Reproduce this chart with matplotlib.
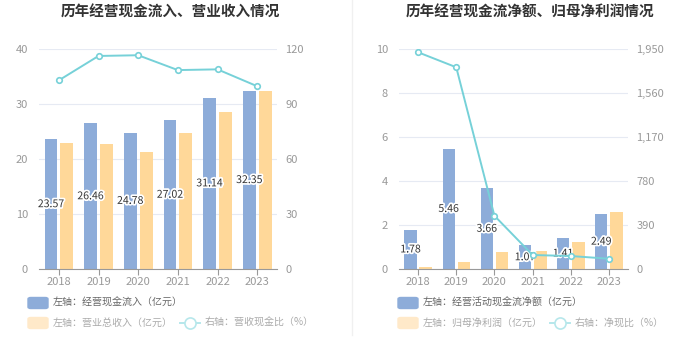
import matplotlib.pyplot as plt
import matplotlib.patheffects as pe
from matplotlib.patches import FancyBboxPatch
from matplotlib.lines import Line2D
from matplotlib.ticker import FuncFormatter
import numpy as np

plt.rcParams['font.family'] = ['Noto Sans CJK SC', 'DejaVu Sans']

years = ['2018', '2019', '2020', '2021', '2022', '2023']

# 左图
cash_in = [23.57, 26.46, 24.78, 27.02, 31.14, 32.35]
revenue = [22.9, 22.7, 21.3, 24.8, 28.5, 32.4]
cash_ratio = [102.9, 116.2, 116.6, 108.5, 108.9, 99.7]

# 右图
cash_net = [1.78, 5.46, 3.66, 1.07, 1.41, 2.49]
net_profit = [0.09, 0.30, 0.77, 0.82, 1.21, 2.58]
net_ratio = [1921, 1788, 472, 124, 115, 91]

BLUE = '#8dacd9'
ORANGE = '#ffd899'
TEAL = '#76d1d8'
W, H = 700, 360

fig = plt.figure(figsize=(7, 3.6), dpi=100)


def px_axes(x0, x1, y0, y1):
    return fig.add_axes([x0 / W, 1 - y1 / H, (x1 - x0) / W, (y1 - y0) / H])


def panel(x0, x1, tx, title, bars1, bars2, line, ymax, rmax, rfmt=None):
    ax = px_axes(x0, x1, 49, 269)
    x = np.arange(len(years))
    ax.bar(x - 0.2, bars1, 0.32, color=BLUE, zorder=2)
    ax.bar(x + 0.2, bars2, 0.33, color=ORANGE, zorder=2)
    for xi, v in zip(x, bars1):
        ax.text(xi - 0.2, v / 2, f'{v:.2f}', ha='center', va='center', fontsize=7.6,
                color='#333333', zorder=5,
                path_effects=[pe.withStroke(linewidth=2.5, foreground='white')])
    n = 5 if ymax == 40 else 6
    ax.set_xlim(-0.5, len(years) - 0.5)
    ax.set_ylim(0, ymax)
    ax.set_yticks(np.linspace(0, ymax, n))
    ax.set_xticks(x)
    ax.set_xticklabels(years)
    ax.grid(axis='y', color='#e6eaf3', linewidth=0.8, zorder=0)
    for s in ['top', 'right', 'left']:
        ax.spines[s].set_visible(False)
    ax.spines['bottom'].set_color('#999999')
    ax.tick_params(axis='x', colors='#999999', labelsize=8, length=4, color='#999999', pad=2)
    ax.tick_params(axis='y', colors='#999999', labelsize=8, length=0, pad=8)

    ax2 = ax.twinx()
    ax2.plot(x, line, color=TEAL, linewidth=1.4, marker='o', markersize=4,
             markerfacecolor='white', markeredgewidth=1.2, zorder=4)
    ax2.set_ylim(0, rmax)
    ax2.set_yticks(np.linspace(0, rmax, n))
    if rfmt:
        ax2.yaxis.set_major_formatter(FuncFormatter(rfmt))
    for s in ax2.spines.values():
        s.set_visible(False)
    ax2.tick_params(axis='y', colors='#999999', labelsize=8, length=0, pad=6)
    fig.text(tx / W, 1 - 12 / H, title, ha='center', va='center',
             fontsize=10.5, fontweight='bold', color='#333333')


def legend(x0, lab1, lab2, lab3, lx):
    def box(x, y, color):
        fig.patches.append(FancyBboxPatch((x / W, 1 - (y + 5.5) / H), 20 / W, 11 / H,
                                          boxstyle='round,pad=0,rounding_size=0.004',
                                          transform=fig.transFigure, color=color))
    box(x0, 303, BLUE)
    fig.text((x0 + 25) / W, 1 - 303 / H, lab1, va='center', fontsize=7.2, color='#666666')
    box(x0, 323, '#ffe9c9')
    fig.text((x0 + 25) / W, 1 - 323 / H, lab2, va='center', fontsize=7.2, color='#aaaaaa')
    fig.lines.append(Line2D([lx / W, (lx + 20) / W], [1 - 323 / H] * 2, color='#b6e7eb',
                            linewidth=1.4, transform=fig.transFigure))
    fig.lines.append(Line2D([(lx + 10) / W], [1 - 323 / H], color='#b6e7eb', marker='o',
                            markersize=8, markerfacecolor='white', markeredgewidth=1.2,
                            transform=fig.transFigure))
    fig.text((lx + 25) / W, 1 - 323 / H, lab3, va='center', fontsize=7.2, color='#aaaaaa')


panel(39, 277, 170, '历年经营现金流入、营业收入情况', cash_in, revenue, cash_ratio, 40, 120)
panel(399, 628, 530, '历年经营现金流净额、归母净利润情况', cash_net, net_profit, net_ratio, 10, 1950,
      lambda v, p: f'{int(v):,}')

legend(28, '左轴：经营现金流入（亿元）', '左轴：营业总收入（亿元）', '右轴：营收现金比（%）', 180)
legend(398, '左轴：经营活动现金流净额（亿元）', '左轴：归母净利润（亿元）', '右轴：净现比（%）', 550)

fig.lines.append(Line2D([352 / W] * 2, [1, 1 - 335 / H], color='#f0f0f0', linewidth=1,
                        transform=fig.transFigure))

fig.savefig('out.png', dpi=100, facecolor='white')
